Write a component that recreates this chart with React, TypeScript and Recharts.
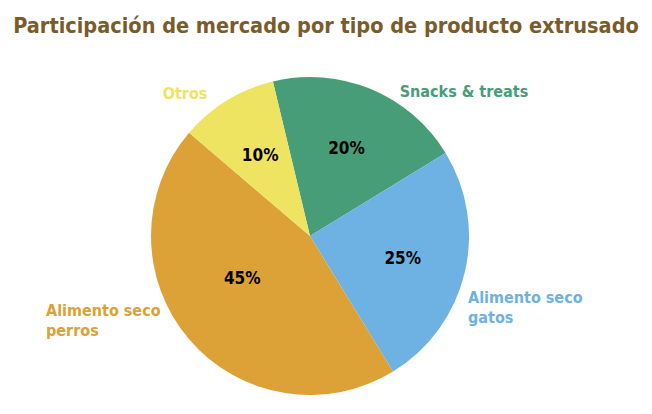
import React from "react";
import { PieChart, Pie, Cell } from "recharts";

const TITLE = "Participación de mercado por tipo de producto extrusado";

// order = clockwise from the top, starting at the Snacks slice
const categories = ["Snacks & treats", "Alimento seco gatos", "Alimento seco perros", "Otros"];
const shares = [20, 25, 45, 10];
const colors = ["#479d77", "#6db2e3", "#dca137", "#efe461"];

const data = categories.map((name, i) => ({ name, value: shares[i] }));

const FONT = '"Liberation Sans Narrow", "DejaVu Sans Condensed", "Roboto Condensed", "Open Sans", sans-serif';

// where the outside names sit, relative to the pie centre (px), plus text anchor
const nameLayout: Record<string, { dx: number; dy: number; anchor: "start" | "middle" | "end"; lines: string[] }> = {
    "Snacks & treats": { dx: 154, dy: -139, anchor: "middle", lines: ["Snacks & treats"] },
    "Alimento seco gatos": { dx: 158, dy: 67, anchor: "start", lines: ["Alimento seco", "gatos"] },
    "Alimento seco perros": { dx: -264, dy: 80, anchor: "start", lines: ["Alimento seco", "perros"] },
    Otros: { dx: -125, dy: -137, anchor: "middle", lines: ["Otros"] },
};

// nudges for the percentage inside the slice
const pctLayout: Record<string, { r: number; shift: number }> = {
    "Alimento seco perros": { r: 0.5, shift: -9 },
};

const RAD = Math.PI / 180;

const renderLabel = (props: any) => {
    const { cx, cy, midAngle, outerRadius, name, value, index } = props;
    const pl = pctLayout[name] || { r: 0.6, shift: 0 };
    const a = (midAngle + pl.shift) * RAD;
    const px = cx + outerRadius * pl.r * Math.cos(a);
    const py = cy - outerRadius * pl.r * Math.sin(a);
    const nl = nameLayout[name];
    return (
        <g key={`lbl-${index}`}>
            <text x={px} y={py} textAnchor="middle" dominantBaseline="central"
                fontFamily={FONT} fontWeight="bold" fontSize={17} fill="#000">
                {value}%
            </text>
            {nl && (
                <text x={cx + nl.dx} y={cy + nl.dy} textAnchor={nl.anchor}
                    fontFamily={FONT} fontWeight="bold" fontSize={16} fill={colors[index]}>
                    {nl.lines.map((ln, i) => (
                        <tspan key={i} x={cx + nl.dx} dy={i === 0 ? 0 : 20}>{ln}</tspan>
                    ))}
                </text>
            )}
        </g>
    );
};

export default function App() {
    return (
        <div style={{ position: "absolute", left: 0, top: 0, width: 652, height: 414, background: "#fff" }}>
            <svg width={652} height={50} style={{ position: "absolute", left: 0, top: 0 }}>
                <text x={326} y={33} textAnchor="middle" fontFamily={FONT} fontWeight="bold"
                    fontSize={21.5} fill="#7a5c2a">
                    {TITLE}
                </text>
            </svg>
            <PieChart width={652} height={414} margin={{ top: 0, right: 0, bottom: 0, left: 0 }}>
                <Pie
                    data={data}
                    dataKey="value"
                    nameKey="name"
                    cx={310}
                    cy={236}
                    outerRadius={159}
                    startAngle={103.5}
                    endAngle={-256.5}
                    stroke="none"
                    label={renderLabel}
                    labelLine={false}
                    isAnimationActive={false}
                >
                    {data.map((entry, i) => (
                        <Cell key={`cell-${i}`} fill={colors[i]} />
                    ))}
                </Pie>
            </PieChart>
        </div>
    );
}
